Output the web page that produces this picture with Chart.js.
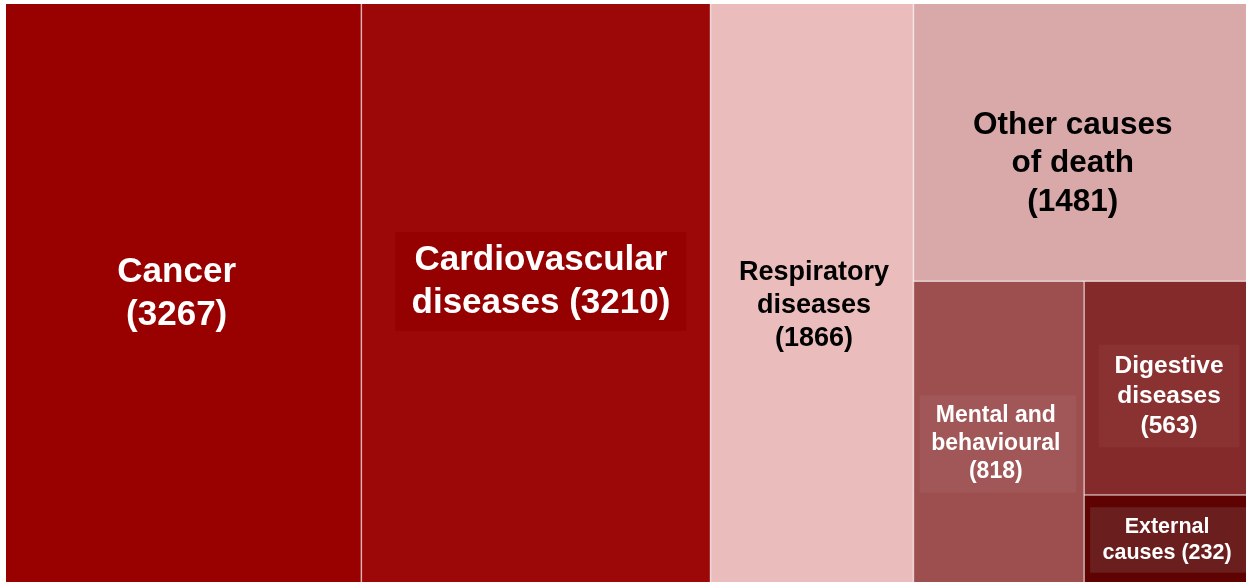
<!DOCTYPE html>
<html>
<head>
<meta charset="utf-8">
<script src="https://cdn.jsdelivr.net/npm/chart.js@4.4.1/dist/chart.umd.min.js"></script>
<style>
  html, body { margin: 0; padding: 0; background: #fff; overflow: hidden; }
  #wrap { width: 1246px; height: 582px; overflow: hidden; }
</style>
</head>
<body>
<div id="wrap"><canvas id="chart" width="1250" height="583"></canvas></div>
<script>
// Deaths by cause
const categories = ['Cancer', 'Cardiovascular diseases', 'Respiratory diseases', 'Other causes of death',
  'Mental and behavioural', 'Digestive diseases', 'External causes'];
const deaths = [3267, 3210, 1866, 1481, 818, 563, 232];
// how each label is broken into lines, {v} = "(value)"
const labelLines = [
  ['Cancer', '{v}'],
  ['Cardiovascular', 'diseases {v}'],
  ['Respiratory', 'diseases', '{v}'],
  ['Other causes', 'of death', '{v}'],
  ['Mental and', 'behavioural', '{v}'],
  ['Digestive', 'diseases', '{v}'],
  ['External', 'causes {v}']
];

// styles
const fills = ['#990000', '#9c0808', '#ebbcbc', '#d9a8a8', '#9d4f4f', '#852a2a', '#5e0202'];
const labelBg = [null, '#950000', null, null, '#a15757', '#8a3131', '#6b1e1e'];
const textColors = ['#fff', '#fff', '#000', '#000', '#fff', '#fff', '#fff'];
const fontSizes = [35, 35, 27, 31.5, 23, 24.5, 21.5];
const labelShift = [[-7, 0], [5, -12], [2, 12], [-9, 21], [-3, 12], [2, 8], [0, 1]];
const LAYOUT_ASPECT = 3.2; // width:height of the layout space

function squarify(values, x0, y0, w, h) {
  const rects = [];
  let rem = values.reduce((a, b) => a + b, 0);
  let i = 0;
  while (i < values.length) {
    const vertical = w >= h;
    const side = vertical ? h : w;
    const unit = (w * h) / rem;
    const worst = row => {
      const t = row.reduce((a, b) => a + b, 0) * unit / side;
      return Math.max(...row.map(v => { const l = v * unit / t; return Math.max(l / t, t / l); }));
    };
    const row = [values[i]];
    let j = i + 1;
    while (j < values.length && worst([...row, values[j]]) <= worst(row)) { row.push(values[j]); j++; }
    const rowSum = row.reduce((a, b) => a + b, 0);
    const thick = rowSum * unit / side;
    let off = 0;
    row.forEach(v => {
      const len = v * unit / thick;
      rects.push(vertical ? { x: x0, y: y0 + off, w: thick, h: len } : { x: x0 + off, y: y0, w: len, h: thick });
      off += len;
    });
    if (vertical) { x0 += thick; w -= thick; } else { y0 += thick; h -= thick; }
    rem -= rowSum;
    i = j;
  }
  return rects;
}

const treemapPlugin = {
  id: 'treemap',
  afterDatasetsDraw(chart) {
    const { ctx, chartArea, scales: { x, y } } = chart;
    const cells = squarify(deaths, 0, 0, LAYOUT_ASPECT, 1).map(r => {
      const l = x.getPixelForValue(r.x), rr = x.getPixelForValue(r.x + r.w);
      const t = y.getPixelForValue(r.y), b = y.getPixelForValue(r.y + r.h);
      return { l, r: rr, t, b };
    });
    ctx.save();
    cells.forEach((c, i) => {
      ctx.fillStyle = fills[i];
      ctx.fillRect(c.l, c.t, c.r - c.l, c.b - c.t);
    });
    // thin light separators between cells
    ctx.strokeStyle = 'rgba(255,255,255,0.6)';
    ctx.lineWidth = 1.5;
    cells.forEach(c => {
      ctx.beginPath();
      if (c.r < chartArea.right - 1) { ctx.moveTo(c.r, c.t); ctx.lineTo(c.r, c.b); }
      if (c.b < chartArea.bottom - 1) { ctx.moveTo(c.l, c.b); ctx.lineTo(c.r, c.b); }
      ctx.stroke();
    });
    // labels
    cells.forEach((c, i) => {
      const fs = fontSizes[i];
      const lh = fs * 1.22;
      const lines = labelLines[i].map(s => s.replace('{v}', '(' + deaths[i] + ')'));
      ctx.font = 'bold ' + fs + 'px "Liberation Sans", Arial, sans-serif';
      const cx = (c.l + c.r) / 2 + labelShift[i][0];
      const cy = (c.t + c.b) / 2 + labelShift[i][1];
      if (labelBg[i]) {
        const mw = Math.max(...lines.map(s => ctx.measureText(s).width));
        const bw = mw + 32, bh = lines.length * lh + 13;
        const bl = Math.max(c.l + 6, cx - bw / 2), br = Math.min(c.r - 3, cx + bw / 2);
        const bt = Math.max(c.t + 6, cy - bh / 2), bb = Math.min(c.b - 5, cy + bh / 2);
        ctx.fillStyle = labelBg[i];
        ctx.fillRect(bl, bt, br - bl, bb - bt);
      }
      ctx.fillStyle = textColors[i];
      ctx.textAlign = 'center';
      ctx.textBaseline = 'middle';
      lines.forEach((s, k) => {
        ctx.fillText(s, cx, cy + (k - (lines.length - 1) / 2) * lh);
      });
    });
    ctx.restore();
  }
};

new Chart(document.getElementById('chart'), {
  type: 'scatter',
  data: { labels: categories, datasets: [{ data: [] }] },
  options: {
    responsive: false,
    devicePixelRatio: 1,
    animation: false,
    layout: { padding: { left: 6, top: 4, right: 0, bottom: 0 } },
    scales: {
      x: { type: 'linear', min: 0, max: LAYOUT_ASPECT, display: false },
      y: { type: 'linear', min: 0, max: 1, reverse: true, display: false }
    },
    plugins: { legend: { display: false }, tooltip: { enabled: false } }
  },
  plugins: [treemapPlugin]
});
</script>
</body>
</html>
